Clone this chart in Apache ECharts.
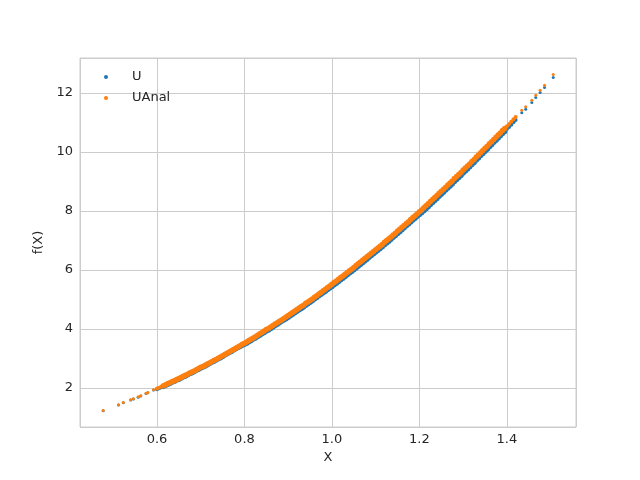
<!DOCTYPE html>
<html>
<head>
<meta charset="utf-8">
<script src="https://cdn.jsdelivr.net/npm/echarts@6/dist/echarts.min.js"></script>
<style>html,body{margin:0;padding:0;background:#fff;}#c{width:640px;height:480px;}</style>
</head>
<body>
<div id="c"></div>
<script>
// X values of the plotted samples
const xValues = [
  0.477, 0.512, 0.523, 0.540, 0.546, 0.557, 0.563, 0.575, 0.579, 0.592,
  0.60, 0.61, 0.62, 0.63, 0.64, 0.65, 0.66, 0.67, 0.68, 0.69,
  0.70, 0.71, 0.72, 0.73, 0.74, 0.75, 0.76, 0.77, 0.78, 0.79,
  0.80, 0.81, 0.82, 0.83, 0.84, 0.85, 0.86, 0.87, 0.88, 0.89,
  0.90, 0.91, 0.92, 0.93, 0.94, 0.95, 0.96, 0.97, 0.98, 0.99,
  1.00, 1.01, 1.02, 1.03, 1.04, 1.05, 1.06, 1.07, 1.08, 1.09,
  1.10, 1.11, 1.12, 1.13, 1.14, 1.15, 1.16, 1.17, 1.18, 1.19,
  1.20, 1.21, 1.22, 1.23, 1.24, 1.25, 1.26, 1.27, 1.28, 1.29,
  1.30, 1.31, 1.32, 1.33, 1.34, 1.35, 1.36, 1.37, 1.38, 1.39,
  1.40, 1.41, 1.42,
  1.434, 1.443, 1.457, 1.466, 1.476, 1.486, 1.506,
  0.605, 0.615, 0.625, 0.635, 0.645, 0.655, 0.665, 0.675, 0.685, 0.695,
  0.705, 0.715, 0.725, 0.735, 0.745, 0.755, 0.765, 0.775, 0.785, 0.795,
  0.805, 0.815, 0.825, 0.835, 0.845, 0.855, 0.865, 0.875, 0.885, 0.895,
  0.905, 0.915, 0.925, 0.935, 0.945, 0.955, 0.965, 0.975, 0.985, 0.995,
  1.005, 1.015, 1.025, 1.035, 1.045, 1.055, 1.065, 1.075, 1.085, 1.095,
  1.105, 1.115, 1.125, 1.135, 1.145, 1.155, 1.165, 1.175, 1.185, 1.195,
  1.205, 1.215, 1.225, 1.235, 1.245, 1.255, 1.265, 1.275, 1.285, 1.295,
  1.305, 1.315, 1.325, 1.335, 1.345, 1.355, 1.365, 1.375, 1.385, 1.395,
  1.405, 1.415
];
// U (numerical)
const uValues = [
  1.23, 1.42, 1.50, 1.59, 1.63, 1.69, 1.73, 1.81, 1.84, 1.93,
  1.96, 2.03, 2.09, 2.16, 2.23, 2.30, 2.38, 2.45, 2.52, 2.60,
  2.68, 2.75, 2.83, 2.91, 2.99, 3.07, 3.16, 3.24, 3.33, 3.41,
  3.48, 3.57, 3.66, 3.75, 3.84, 3.93, 4.02, 4.12, 4.21, 4.31,
  4.40, 4.50, 4.60, 4.70, 4.81, 4.91, 5.02, 5.13, 5.23, 5.34,
  5.44, 5.55, 5.67, 5.78, 5.90, 6.01, 6.13, 6.25, 6.37, 6.49,
  6.61, 6.73, 6.86, 6.98, 7.11, 7.24, 7.37, 7.50, 7.63, 7.76,
  7.88, 8.01, 8.15, 8.29, 8.43, 8.57, 8.71, 8.85, 9.00, 9.14,
  9.29, 9.43, 9.58, 9.73, 9.88, 10.03, 10.18, 10.33, 10.48, 10.63,
  10.78, 10.93, 11.09,
  11.33, 11.45, 11.68, 11.85, 12.02, 12.19, 12.53,
  1.99, 2.06, 2.13, 2.20, 2.27, 2.34, 2.41, 2.49, 2.56, 2.64,
  2.71, 2.79, 2.87, 2.95, 3.03, 3.12, 3.20, 3.29, 3.37, 3.45,
  3.52, 3.61, 3.70, 3.79, 3.88, 3.97, 4.07, 4.16, 4.26, 4.35,
  4.45, 4.55, 4.65, 4.75, 4.86, 4.96, 5.07, 5.18, 5.28, 5.39,
  5.50, 5.61, 5.72, 5.84, 5.95, 6.07, 6.19, 6.31, 6.43, 6.55,
  6.67, 6.79, 6.92, 7.04, 7.17, 7.30, 7.43, 7.56, 7.70, 7.82,
  7.94, 8.08, 8.22, 8.36, 8.50, 8.64, 8.78, 8.92, 9.07, 9.21,
  9.36, 9.50, 9.65, 9.80, 9.95, 10.10, 10.25, 10.40, 10.55, 10.70,
  10.85, 11.01
];
// UAnal (analytical)
const uAnalValues = [
  1.24, 1.43, 1.51, 1.60, 1.64, 1.70, 1.74, 1.82, 1.85, 1.94,
  1.98, 2.05, 2.11, 2.18, 2.25, 2.32, 2.40, 2.47, 2.54, 2.62,
  2.70, 2.77, 2.85, 2.93, 3.01, 3.09, 3.18, 3.26, 3.35, 3.43,
  3.52, 3.61, 3.70, 3.79, 3.88, 3.98, 4.07, 4.17, 4.26, 4.36,
  4.46, 4.56, 4.66, 4.76, 4.87, 4.97, 5.08, 5.19, 5.30, 5.41,
  5.52, 5.63, 5.75, 5.86, 5.98, 6.09, 6.21, 6.33, 6.45, 6.57,
  6.69, 6.81, 6.94, 7.06, 7.19, 7.32, 7.45, 7.58, 7.71, 7.84,
  7.98, 8.11, 8.25, 8.39, 8.53, 8.67, 8.81, 8.95, 9.10, 9.24,
  9.39, 9.53, 9.68, 9.83, 9.98, 10.13, 10.28, 10.43, 10.58, 10.73,
  10.88, 11.03, 11.19,
  11.42, 11.54, 11.76, 11.93, 12.10, 12.27, 12.63,
  2.01, 2.08, 2.15, 2.22, 2.29, 2.36, 2.43, 2.51, 2.58, 2.66,
  2.73, 2.81, 2.89, 2.97, 3.05, 3.14, 3.22, 3.31, 3.39, 3.48,
  3.56, 3.65, 3.74, 3.84, 3.93, 4.02, 4.12, 4.21, 4.31, 4.41,
  4.51, 4.61, 4.71, 4.81, 4.92, 5.02, 5.13, 5.24, 5.35, 5.46,
  5.58, 5.69, 5.80, 5.92, 6.03, 6.15, 6.27, 6.39, 6.51, 6.63,
  6.75, 6.87, 7.00, 7.12, 7.25, 7.38, 7.51, 7.64, 7.78, 7.91,
  8.04, 8.18, 8.32, 8.46, 8.60, 8.74, 8.88, 9.02, 9.17, 9.31,
  9.46, 9.60, 9.75, 9.90, 10.05, 10.20, 10.35, 10.50, 10.65, 10.80,
  10.95, 11.11
];
const seriesNames = ['U', 'UAnal'];

const pair = (ys) => xValues.map((x, i) => [x, ys[i]]);
// markers overlap densely between 0.6 and 1.42 (thin at the edges of that range)
const sizeFn = (v) => {
  if (v[0] >= 0.615 && v[0] <= 1.395) return 5.5;
  if (v[0] >= 0.6 && v[0] <= 1.42) return 4;
  return 3;
};

const textColor = '#262626';
const font = 'DejaVu Sans';
const chart = echarts.init(document.getElementById('c'), null, {renderer: 'canvas'});
chart.setOption({
  animation: false,
  backgroundColor: '#fff',
  textStyle: {fontFamily: font},
  grid: {left: 80, right: 64, top: 58, bottom: 53, show: true, borderColor: '#cccccc', borderWidth: 1, containLabel: false},
  legend: {
    orient: 'vertical', left: 99, top: 65,
    itemWidth: 42, itemHeight: 4, itemGap: 7,
    textStyle: {fontFamily: font, fontSize: 13, color: textColor, lineHeight: 14},
    data: seriesNames
  },
  xAxis: {
    type: 'value', min: 0.424, max: 1.558, splitNumber: 5,
    name: 'X', nameLocation: 'middle', nameGap: 24,
    nameTextStyle: {fontFamily: font, fontSize: 13, color: textColor},
    axisLine: {show: false}, axisTick: {show: false},
    axisLabel: {showMinLabel: false, showMaxLabel: false, margin: 6, fontFamily: font, fontSize: 13, color: textColor,
      formatter: (v) => v.toFixed(1)},
    splitLine: {show: true, lineStyle: {color: '#cccccc', width: 1}}
  },
  yAxis: {
    type: 'value', min: 0.678, max: 13.19, splitNumber: 6,
    name: 'f(X)', nameLocation: 'middle', nameGap: 28, nameRotate: 90,
    nameTextStyle: {fontFamily: font, fontSize: 13, color: textColor},
    axisLine: {show: false}, axisTick: {show: false},
    axisLabel: {showMinLabel: false, showMaxLabel: false, margin: 7, fontFamily: font, fontSize: 13, color: textColor},
    splitLine: {show: true, lineStyle: {color: '#cccccc', width: 1}}
  },
  series: [
    {name: seriesNames[0], type: 'scatter', data: pair(uValues), symbol: 'circle', symbolSize: sizeFn,
      itemStyle: {color: '#1f77b4', opacity: 1}},
    {name: seriesNames[1], type: 'scatter', data: pair(uAnalValues), symbol: 'circle', symbolSize: sizeFn,
      itemStyle: {color: '#ff7f0e', opacity: 1}}
  ]
});
</script>
</body>
</html>
